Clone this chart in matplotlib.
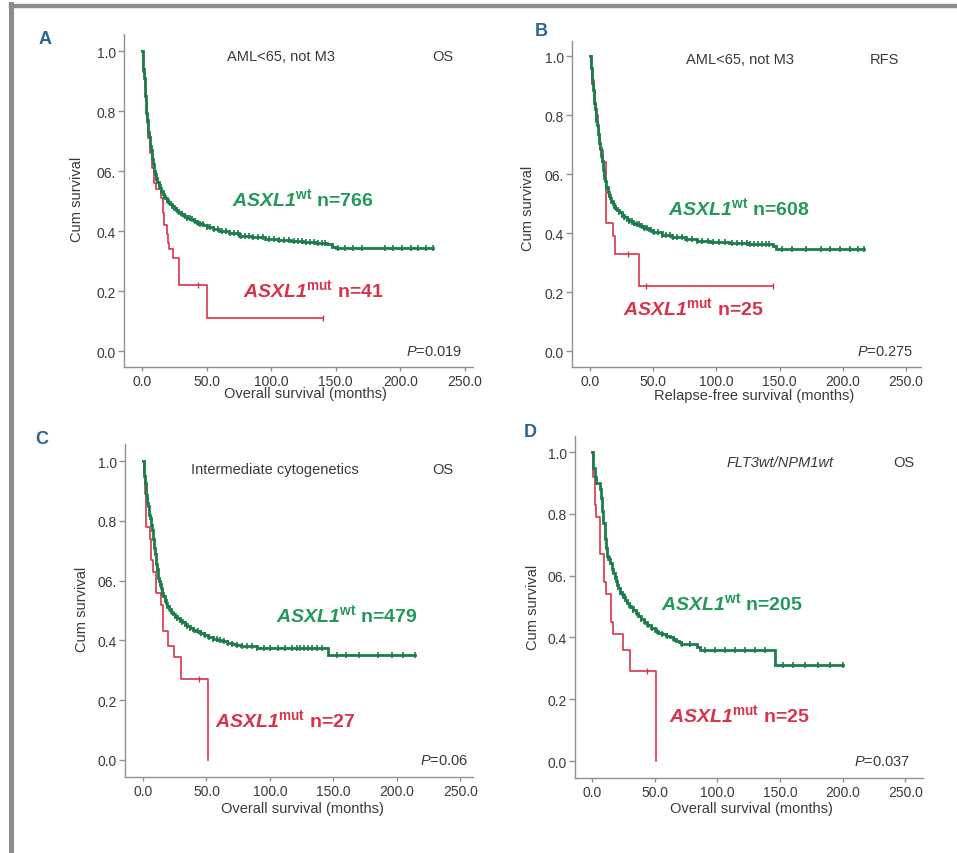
import matplotlib
matplotlib.use("Agg")
import matplotlib.pyplot as plt
import numpy as np

plt.rcParams['font.family'] = ['Liberation Sans', 'DejaVu Sans']
plt.rcParams['mathtext.fontset'] = 'custom'
plt.rcParams['mathtext.bf'] = 'Liberation Sans:bold'
plt.rcParams['mathtext.bfit'] = 'Liberation Sans:italic:bold'
plt.rcParams['mathtext.it'] = 'Liberation Sans:italic'
plt.rcParams['mathtext.rm'] = 'Liberation Sans'

# ---------------- data ----------------
x_ticks = [0, 50, 100, 150, 200, 250]
x_tick_labels = ['0.0', '50.0', '100.0', '150.0', '200.0', '250.0']
y_ticks = [1.0, 0.8, 0.6, 0.4, 0.2, 0.0]
y_tick_labels = ['1.0', '0.8', '06.', '0.4', '0.2', '0.0']

panel_letters = ['A', 'B', 'C', 'D']
subtitles = ['AML<65, not M3', 'AML<65, not M3', 'Intermediate cytogenetics', 'FLT3wt/NPM1wt']
endpoints = ['OS', 'RFS', 'OS', 'OS']
p_values = ['0.019', '0.275', '0.06', '0.037']
x_labels = ['Overall survival (months)', 'Relapse-free survival (months)',
            'Overall survival (months)', 'Overall survival (months)']
n_wt = [766, 608, 479, 205]
n_mut = [41, 25, 27, 25]

# Panel A
a_wt_t = [0, 0.5, 1, 1.5, 2, 2.5, 3, 3.5, 4, 4.5, 5, 5.5, 6, 6.5, 7, 7.5, 8, 8.5, 9, 9.5, 10, 11,
          12, 13, 14, 15, 16, 17, 18, 19, 20, 21.5, 23, 24.5, 26, 28, 30, 32.5, 35, 37.5, 40, 42.5,
          45, 47.5, 50, 55, 60, 67, 75, 85, 95, 105, 115, 125, 135, 143, 147, 150]
a_wt_s = [1.0, 0.97, 0.94, 0.91, 0.88, 0.85, 0.82, 0.795, 0.77, 0.75, 0.73, 0.715, 0.70, 0.685,
          0.67, 0.655, 0.64, 0.625, 0.61, 0.60, 0.59, 0.577, 0.565, 0.555, 0.545, 0.535, 0.525,
          0.517, 0.51, 0.503, 0.497, 0.49, 0.483, 0.476, 0.47, 0.464, 0.458, 0.451, 0.445, 0.439,
          0.433, 0.428, 0.424, 0.419, 0.415, 0.408, 0.40, 0.393, 0.385, 0.379, 0.373, 0.369,
          0.366, 0.364, 0.362, 0.358, 0.348, 0.345]
a_wt_end = 225
a_wt_cens = [11, 13, 15, 17, 19, 21, 23, 25, 27, 29, 31, 33, 35, 37, 39, 41, 43, 45, 47, 50, 53,
             56, 59, 62, 65, 68, 71, 74, 77, 80, 83, 86, 90, 94, 98, 102, 106, 110, 114, 118, 121,
             124, 127, 130, 133, 136, 139, 142, 152, 157, 163, 170, 188, 194, 201, 208, 214, 220,
             225]
a_mut_t = [0, 1, 2, 3, 4, 5, 6, 8, 9.5, 11, 15, 16, 17, 19, 20, 21, 24, 29, 50]
a_mut_s = [1.0, 0.93, 0.88, 0.83, 0.76, 0.71, 0.66, 0.61, 0.56, 0.54, 0.51, 0.46, 0.42, 0.39, 0.36,
           0.34, 0.31, 0.22, 0.11]
a_mut_end = 140
a_mut_cens = [43, 140]

# Panel B
b_wt_t = [0, 0.5, 1, 1.5, 2, 2.5, 3, 3.5, 4, 4.5, 5, 5.5, 6, 6.5, 7, 7.5, 8, 8.5, 9, 9.5, 10, 10.5,
          11, 11.5, 12, 13, 14, 15, 16, 17, 18, 19, 20, 21.5, 23, 25, 27, 29, 31, 33.5, 36, 39.5,
          43, 46.5, 50, 57, 65, 75, 85, 95, 110, 125, 145, 147]
b_wt_s = [1.0, 0.98, 0.96, 0.935, 0.91, 0.885, 0.86, 0.84, 0.82, 0.80, 0.78, 0.765, 0.75, 0.735,
          0.72, 0.705, 0.69, 0.675, 0.66, 0.645, 0.63, 0.615, 0.60, 0.587, 0.575, 0.555, 0.54,
          0.53, 0.52, 0.51, 0.50, 0.492, 0.485, 0.477, 0.47, 0.462, 0.455, 0.447, 0.44, 0.435,
          0.43, 0.424, 0.418, 0.411, 0.405, 0.395, 0.387, 0.38, 0.373, 0.37, 0.365, 0.362, 0.357,
          0.345]
b_wt_end = 217
b_wt_cens = [11, 13, 15, 17, 19, 21, 23, 25, 27, 29, 31, 33, 35, 37, 39, 41, 43, 45, 48, 51, 54,
             57, 60, 63, 66, 69, 73, 77, 81, 85, 89, 93, 97, 102, 107, 112, 116, 120, 124, 127,
             130, 133, 136, 139, 142, 152, 160, 171, 183, 190, 198, 206, 212, 217]
b_mut_t = [0, 1, 2, 3, 4, 5, 6, 7, 8, 10, 12.7, 18, 20, 39]
b_mut_s = [1.0, 0.96, 0.92, 0.88, 0.84, 0.80, 0.76, 0.72, 0.68, 0.64, 0.435, 0.39, 0.33, 0.22]
b_mut_end = 145
b_mut_cens = [30, 44, 145]

# Panel C
c_wt_t = [0, 0.5, 1, 1.5, 2, 2.5, 3, 3.5, 4, 4.5, 5, 5.5, 6, 6.5, 7, 7.5, 8, 8.5, 9, 9.5, 10, 10.5,
          11, 11.5, 12, 12.5, 13, 14, 15, 16, 17, 18, 19, 20.5, 22, 23.5, 25, 27, 29, 31, 33, 35,
          37, 39.5, 42, 45, 48, 51.5, 55, 58.5, 62, 66, 70, 73.5, 77, 90, 146]
c_wt_s = [1.0, 0.975, 0.95, 0.925, 0.90, 0.885, 0.87, 0.86, 0.85, 0.835, 0.82, 0.81, 0.80, 0.785,
          0.77, 0.755, 0.74, 0.725, 0.71, 0.69, 0.67, 0.655, 0.64, 0.625, 0.61, 0.60, 0.59, 0.575,
          0.56, 0.547, 0.535, 0.525, 0.515, 0.505, 0.495, 0.487, 0.48, 0.474, 0.468, 0.461,
          0.455, 0.449, 0.443, 0.436, 0.43, 0.424, 0.418, 0.411, 0.405, 0.401, 0.397, 0.392,
          0.388, 0.384, 0.38, 0.376, 0.35]
c_wt_end = 214
c_wt_cens = [11, 13, 15, 17, 19, 21, 23, 25, 27, 29, 31, 33, 35, 37, 40, 43, 46, 49, 52, 55, 58,
             61, 64, 67, 70, 74, 78, 82, 86, 90, 95, 100, 106, 112, 117, 121, 124, 127, 130, 133,
             137, 141, 153, 160, 170, 185, 196, 205, 214]
c_mut_t = [0, 1, 1.5, 2, 2.5, 5.3, 6.5, 8, 10, 14.5, 15.5, 16, 20, 24.5, 30, 51.3]
c_mut_s = [1.0, 0.96, 0.89, 0.85, 0.78, 0.74, 0.67, 0.63, 0.56, 0.52, 0.48, 0.43, 0.38, 0.345,
           0.27, 0.0]
c_mut_end = 51.3
c_mut_cens = [44]

# Panel D
d_wt_t = [0, 1, 2, 3, 6, 7, 8, 9, 10, 11, 12, 13, 14.5, 16, 17, 18, 19, 20, 21, 22, 23.5, 25, 26.5,
          28, 29.5, 31, 33, 35, 37, 39, 41.5, 44, 47, 50, 53, 56, 59, 62, 64.5, 67, 69, 71, 84, 86,
          146]
d_wt_s = [1.0, 0.95, 0.92, 0.90, 0.88, 0.85, 0.81, 0.77, 0.72, 0.69, 0.665, 0.655, 0.64, 0.62,
          0.607, 0.595, 0.582, 0.57, 0.559, 0.548, 0.539, 0.53, 0.52, 0.51, 0.503, 0.497, 0.488,
          0.48, 0.47, 0.46, 0.45, 0.44, 0.43, 0.42, 0.415, 0.41, 0.405, 0.40, 0.395, 0.39, 0.384,
          0.378, 0.37, 0.36, 0.31]
d_wt_end = 200
d_wt_cens = [14, 18, 22, 26, 30, 33, 36, 39, 42, 45, 48, 52, 56, 60, 65, 72, 78, 90, 98, 106, 114,
             122, 130, 138, 152, 160, 170, 180, 190, 200]
d_mut_t = [0, 1, 2, 3, 6.6, 9.3, 11, 15, 16.5, 24.5, 30, 51]
d_mut_s = [1.0, 0.92, 0.83, 0.79, 0.67, 0.58, 0.54, 0.45, 0.41, 0.36, 0.29, 0.0]
d_mut_end = 51
d_mut_cens = [44]

curves = [
    (a_wt_t, a_wt_s, a_wt_end, a_wt_cens, a_mut_t, a_mut_s, a_mut_end, a_mut_cens),
    (b_wt_t, b_wt_s, b_wt_end, b_wt_cens, b_mut_t, b_mut_s, b_mut_end, b_mut_cens),
    (c_wt_t, c_wt_s, c_wt_end, c_wt_cens, c_mut_t, c_mut_s, c_mut_end, c_mut_cens),
    (d_wt_t, d_wt_s, d_wt_end, d_wt_cens, d_mut_t, d_mut_s, d_mut_end, d_mut_cens),
]

# ---------------- layout (pixels, figure 957x854) ----------------
W, H = 957, 854
axes_px = [(124, 473, 35, 368), (572, 921, 42, 368), (125, 473, 445, 778), (575, 923, 437, 779)]
xlims = [(-13.9, 256.2), (-14.2, 261.9), (-14.2, 260.0), (-13.6, 264.0)]
ylims = [(-0.053, 1.057), (-0.054, 1.051), (-0.057, 1.057), (-0.055, 1.052)]
letter_px = [(45, 40), (541, 32), (42, 440), (530, 433)]
subtitle_pos = [(107.6, 0.983), (119, 0.99), (104, 0.973), (150, 0.968)]
endpoint_pos = [(233, 0.983), (233, 0.99), (236.6, 0.973), (249, 0.968)]
p_pos = [(248, 0.0), (255.5, 0.0), (256, 0.0), (253.7, 0.0)]
wt_lab_pos = [(69.7, 0.51), (61.7, 0.488), (105, 0.488), (55, 0.515)]
mut_lab_pos = [(78, 0.207), (26, 0.149), (56.8, 0.137), (61, 0.152)]
ylab_pos = [(-0.135, 0.505), (-0.126, 0.49), (-0.124, 0.505), (-0.12, 0.503)]
xlab_pos = [(0.52, -0.078), (0.523, -0.085), (0.51, -0.094), (0.506, -0.089)]

GREEN_LINE = '#1c7d4b'
GREEN_TEXT = '#22995a'
RED = '#d8334a'
TXT = '#3a3a3a'
AX = '#909090'
BLUE = '#2a6592'

fig = plt.figure(figsize=(W / 100, H / 100), dpi=100)
fig.patch.set_facecolor('white')

# frame lines (top and left)
fig.add_artist(plt.Line2D([10.5 / W, 1.0], [1 - 6.5 / H, 1 - 6.5 / H], color='#8c8c8c', lw=3.2))
fig.add_artist(plt.Line2D([10.5 / W, 10.5 / W], [0, 1 - 5 / H], color='#8c8c8c', lw=3.6))


def km_xy(t, s, end):
    xs, ys = [t[0]], [s[0]]
    for i in range(1, len(t)):
        xs += [t[i], t[i]]
        ys += [s[i - 1], s[i]]
    if end > t[-1]:
        xs.append(end)
        ys.append(s[-1])
    return np.array(xs), np.array(ys)


def km_at(t, s, q):
    idx = np.searchsorted(np.array(t), q, side='right') - 1
    return np.array(s)[idx]


for i in range(4):
    l, r, tp, bt = axes_px[i]
    ax = fig.add_axes([l / W, 1 - bt / H, (r - l) / W, (bt - tp) / H])
    wt_t, wt_s, wt_end, wt_c, mu_t, mu_s, mu_end, mu_c = curves[i]

    xs, ys = km_xy(wt_t, wt_s, wt_end)
    ax.plot(xs, ys, color=GREEN_LINE, lw=2.0, solid_joinstyle='miter', zorder=3)
    ax.plot(wt_c, km_at(wt_t, wt_s, wt_c), ls='none', marker='|', ms=5, mew=1.2,
            color=GREEN_LINE, zorder=3)
    xs, ys = km_xy(mu_t, mu_s, mu_end)
    ax.plot(xs, ys, color=RED, lw=1.2, zorder=2)
    ax.plot(mu_c, km_at(mu_t, mu_s, mu_c), ls='none', marker='|', ms=5, mew=1.0,
            color=RED, zorder=2)

    ax.set_xlim(*xlims[i])
    ax.set_ylim(*ylims[i])
    ax.set_xticks(x_ticks)
    ax.set_xticklabels(x_tick_labels)
    ax.set_yticks(y_ticks)
    ax.set_yticklabels(y_tick_labels)
    for s in ['top', 'right']:
        ax.spines[s].set_visible(False)
    for s in ['left', 'bottom']:
        ax.spines[s].set_color(AX)
        ax.spines[s].set_linewidth(1.0)
    ax.tick_params(axis='both', colors=AX, labelcolor=TXT, labelsize=10, width=1.0)
    ax.tick_params(axis='y', length=4, pad=2)
    ax.tick_params(axis='x', length=3, pad=2)

    ax.set_ylabel('Cum survival', fontsize=10.5, color=TXT)
    ax.yaxis.set_label_coords(*ylab_pos[i])
    ax.set_xlabel(x_labels[i], fontsize=10.5, color=TXT)
    ax.xaxis.set_label_coords(*xlab_pos[i])
    ax.xaxis.label.set_va('center')
    ax.yaxis.label.set_va('center')

    sty = 'italic' if i == 3 else 'normal'
    ax.text(*subtitle_pos[i], subtitles[i], ha='center', va='center', fontsize=10.5,
            color=TXT, style=sty)
    ax.text(*endpoint_pos[i], endpoints[i], ha='center', va='center', fontsize=10.5, color=TXT)
    ax.text(*p_pos[i], r'$\mathit{P}$=' + p_values[i], ha='right', va='center',
            fontsize=10.5, color=TXT)

    ax.text(*wt_lab_pos[i], r'$\mathbfit{ASXL1}^{\mathbf{wt}}$ n=%d' % n_wt[i],
            ha='left', va='center', fontsize=14, fontweight='bold', color=GREEN_TEXT)
    ax.text(*mut_lab_pos[i], r'$\mathbfit{ASXL1}^{\mathbf{mut}}$ n=%d' % n_mut[i],
            ha='left', va='center', fontsize=14, fontweight='bold', color=RED)

    fig.text(letter_px[i][0] / W, 1 - letter_px[i][1] / H, panel_letters[i], ha='center',
             va='center', fontsize=13, fontweight='bold', color=BLUE)

fig.savefig('out.png', dpi=100, facecolor='white')
